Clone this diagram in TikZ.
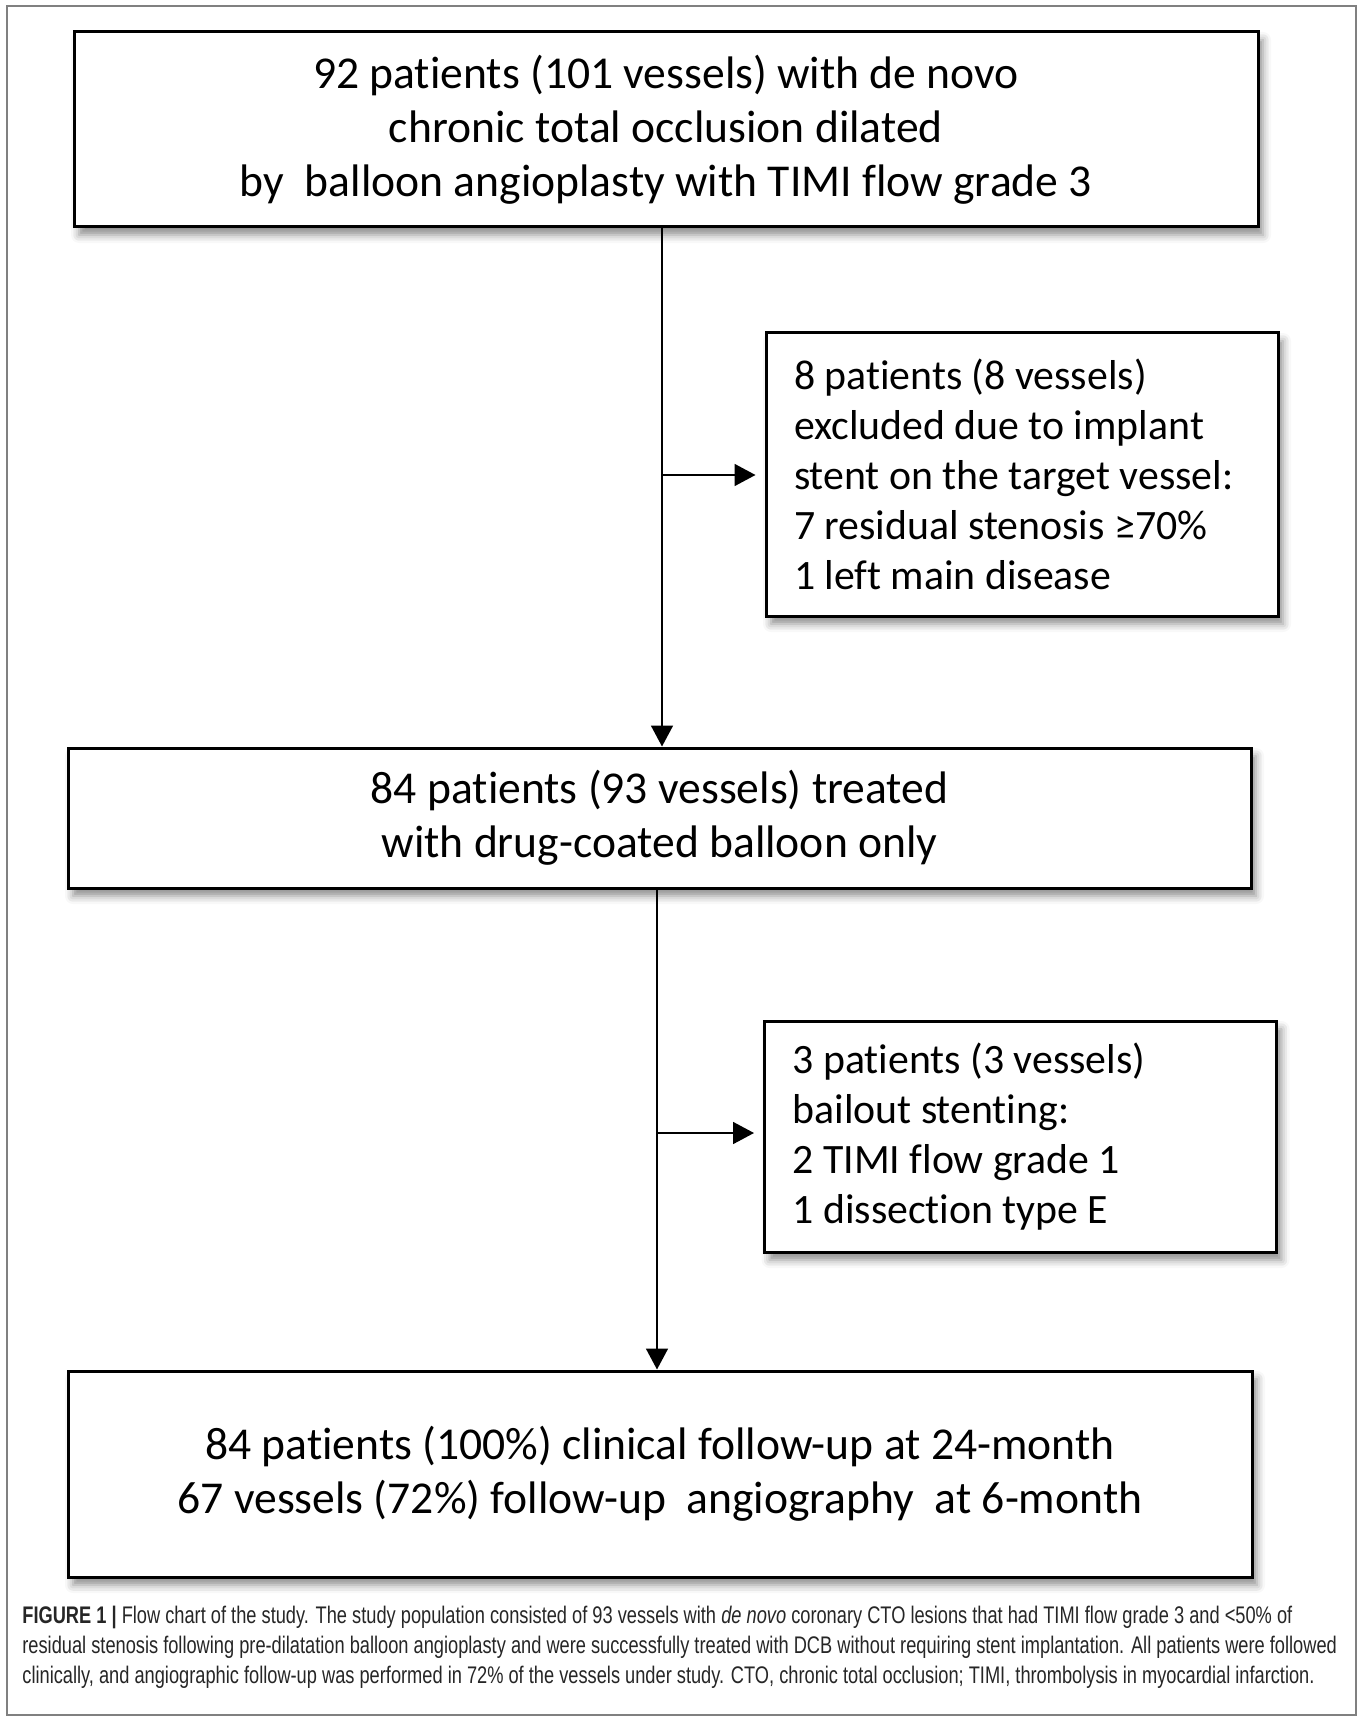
\documentclass[tikz,border=0pt]{standalone}
\usepackage{fontspec}
\setmainfont{Carlito}[Ligatures={NoRequired,NoCommon,NoContextual,NoRare}, Contextuals=NoAlternate]
\newfontfamily\capfont[FakeStretch=0.76]{Liberation Sans}
\usetikzlibrary{arrows.meta, shadows.blur}

\tikzset{
    bigbox/.style    = {draw=black, line width=1.5pt, fill=white, align=center, inner sep=0pt,
                        font=\fontsize{22.8}{27}\selectfont,
                        blur shadow={shadow xshift=2.5pt, shadow yshift=-4pt,
                                     shadow blur radius=4pt, shadow opacity=45}},
    sidebox/.style   = {bigbox, align=flush left, text width=228pt, inner xsep=14pt,
                        font=\fontsize{20.9}{25}\selectfont},
    flowline/.style  = {black, line width=0.85pt},
    flowarrow/.style = {flowline, -{Triangle[length=10.5pt, width=11pt]}},
}

\begin{document}
\begin{tikzpicture}[x=0.5pt, y=-0.5pt]
    \useasboundingbox (0,0) rectangle (1360,1717);
    \draw [gray, line width=1pt] (7,6) rectangle (1356,1715);                    % outer frame

    \node [bigbox, minimum width=592pt, minimum height=97.5pt] (enrolled) at (666,129.5)
        {92 patients (101 vessels) with de novo\\chronic total occlusion dilated\\by~ balloon angioplasty with TIMI flow grade 3};
    \node [sidebox, minimum height=141.5pt] (excluded) at (1022,474.5)
        {8 patients (8 vessels)\\excluded due to implant\\stent on the target vessel:\\7 residual stenosis ≥70\%\\1 left main disease};
    \node [bigbox, minimum width=591.5pt, minimum height=70pt] (treated) at (659.5,818)
        {84 patients (93 vessels) treated\\with drug-coated balloon only};
    \node [sidebox, minimum height=115.5pt] (bailout) at (1020.5,1136.5)
        {3 patients (3 vessels)\\bailout stenting:\\2 TIMI flow grade 1\\1 dissection type E};
    \node [bigbox, minimum width=592pt, minimum height=103pt] (followup) at (660,1474)
        {84 patients (100\%) clinical follow-up at 24-month\\67 vessels (72\%) follow-up~ angiography~ at 6-month};

    \coordinate (splitA) at (662,475);                                            % first branch point
    \coordinate (splitB) at (657,1133);                                           % second branch point
    \draw [flowarrow]                  (enrolled.south -| splitA) -- (treated.north -| splitA);   % trunk 1
    \draw [flowarrow, shorten >=4.5pt] (splitA) -- (splitA -| excluded.west);                    % to excluded
    \draw [flowarrow]                  (treated.south -| splitB) -- (followup.north -| splitB);  % trunk 2
    \draw [flowarrow, shorten >=4.5pt] (splitB) -- (splitB -| bailout.west);                     % to bailout

    \node [anchor=north west, inner sep=0pt, align=left, text=black!85,
           font=\capfont\fontsize{12}{15}\selectfont] (caption) at (22,1605.5)
        {\textbf{FIGURE 1 |} Flow chart of the study. The study population consisted of 93 vessels with \textit{de novo} coronary CTO lesions that had TIMI flow grade 3 and <50\% of\\
         residual stenosis following pre-dilatation balloon angioplasty and were successfully treated with DCB without requiring stent implantation. All patients were followed\\
         clinically, and angiographic follow-up was performed in 72\% of the vessels under study. CTO, chronic total occlusion; TIMI, thrombolysis in myocardial infarction.};
\end{tikzpicture}
\end{document}
